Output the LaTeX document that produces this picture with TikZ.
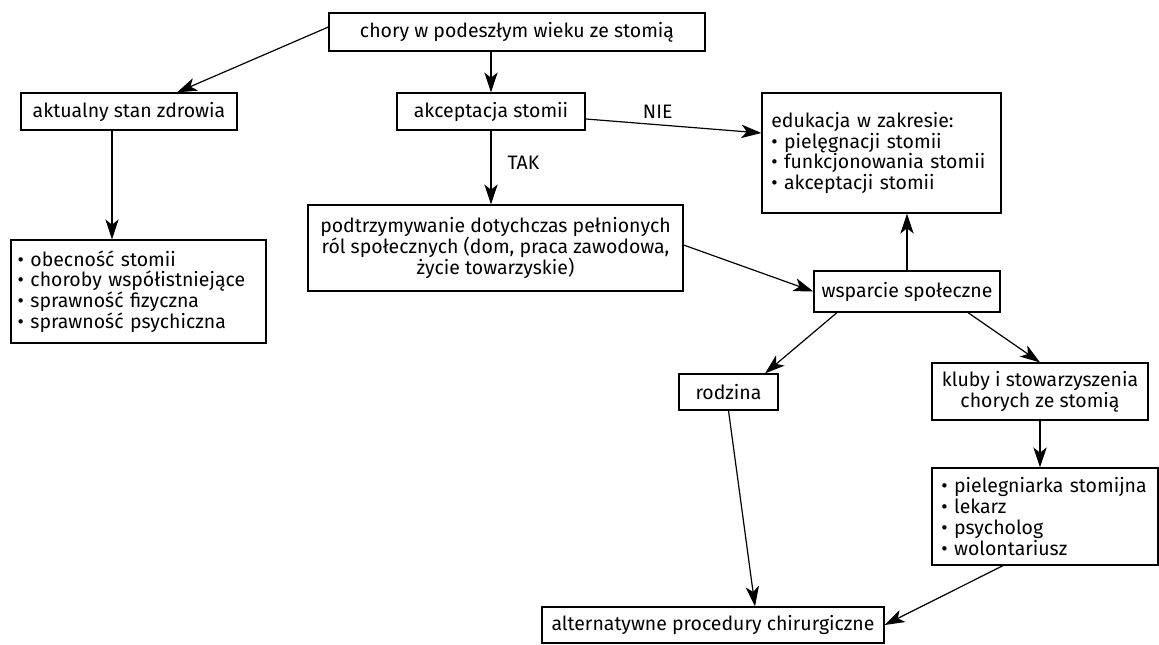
\documentclass[tikz,border=0pt]{standalone}
\usepackage{fontspec}
\setmainfont{Fira Sans}
\usetikzlibrary{arrows.meta, positioning, calc}

\begin{document}
\begin{tikzpicture}[
        x=0.75pt, y=-0.75pt,
        font=\fontsize{14.6}{15.6}\selectfont,
        % Define a uniform style for all boxes
        block/.style={
            rectangle,
            draw=black,
            line width=0.9pt,
            align=center,
            inner sep=3pt
        },
        % boxes with a bullet list
        listblock/.style={
            block,
            align=left,
            inner xsep=7pt
        },
        arrow/.style={
            -{Stealth[length=15pt, width=10pt, inset=4pt]},
            line width=0.9pt
        },
        answer/.style={inner sep=2pt}
    ]
    \useasboundingbox (0,0) rectangle (1159,644);

    % Draw the Nodes
    \node (patient) [block, minimum width=282pt, minimum height=28.5pt] at (517,32) {chory w podeszłym wieku ze stomią};

    \node (health) [block, minimum width=162pt, minimum height=27.75pt] at (129,111.5) {aktualny stan zdrowia};

    \node (acceptance) [block, minimum width=141pt, minimum height=27.75pt] at (491,111.5) {akceptacja stomii};

    \node (education) [listblock, text width=165.25pt, minimum height=90pt] at (881.5,153) {
        edukacja w zakresie:\\
        • pielęgnacji stomii\\
        • funkcjonowania stomii\\
        • akceptacji stomii
    };

    \node (conditions) [listblock, inner xsep=5pt, text width=181.25pt, minimum height=77.25pt] at (138.5,291.5) {
        • obecność stomii\\
        • choroby współistniejące\\
        • sprawność fizyczna\\
        • sprawność psychiczna
    };

    \node (roles) [block, minimum width=281.25pt, minimum height=64.5pt] at (495.5,248) {
        podtrzymywanie dotychczas pełnionych\\
        ról społecznych (dom, praca zawodowa,\\
        życie towarzyskie)
    };

    \node (support) [block, minimum width=139.5pt, minimum height=30.75pt] at (907,291.5) {wsparcie społeczne};

    \node (family) [block, minimum width=74.25pt, minimum height=27pt] at (728.5,392) {rodzina};

    \node (clubs) [block, minimum width=162pt, minimum height=42.75pt] at (1040,391.5) {
        kluby i stowarzyszenia\\
        chorych ze stomią
    };

    \node (staff) [listblock, text width=155.5pt, minimum height=72.75pt] at (1045,516.5) {
        • pielegniarka stomijna\\
        • lekarz\\
        • psycholog\\
        • wolontariusz
    };

    \node (surgery) [block, minimum width=256.5pt, minimum height=27pt] at (713,625) {alternatywne procedury chirurgiczne};

    % Draw the connecting arrows
    \draw [arrow] ([yshift=3.75pt]patient.west) -- ([xshift=36pt]health.north);
    \draw [arrow] (patient.south -| acceptance.north) -- (acceptance.north);
    \draw [arrow] ([xshift=-12.75pt]health.south) -- ([xshift=-12.75pt]health.south |- conditions.north);
    \draw [arrow] (acceptance.south) -- node [answer, pos=0.44, right=10pt] {TAK} (acceptance.south |- roles.north);
    \draw [arrow] ([yshift=-5.6pt]acceptance.east) -- node [answer, pos=0.41, above=2.5pt] {NIE} ([yshift=15pt]education.west);
    \draw [arrow] ([yshift=2.25pt]roles.east) -- (support.west);
    \draw [arrow] (support.north) -- (support.north |- education.south);
    \draw [arrow] ([xshift=-52.5pt]support.south) -- ([xshift=27.4pt]family.north);
    \draw [arrow] ([xshift=45.75pt]support.south) -- (clubs.north);
    \draw [arrow] (clubs.south) -- (clubs.south |- staff.north);
    \draw [arrow] (family.south) -- ([xshift=31.5pt]surgery.north);
    \draw [arrow] ([xshift=-31.5pt]staff.south) -- (surgery.east);

\end{tikzpicture}
\end{document}
